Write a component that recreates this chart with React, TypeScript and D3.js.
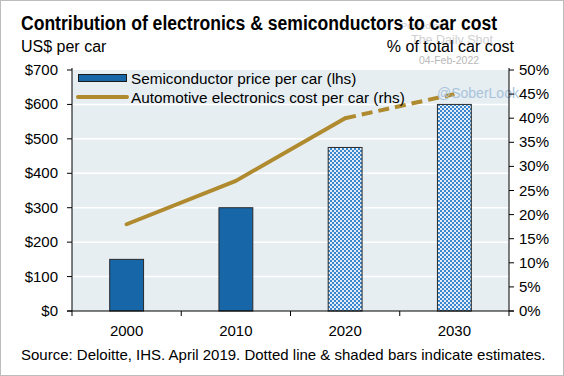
import React from "react";
import * as d3 from "d3";

const categories = ["2000", "2010", "2020", "2030"];
const semiValues = [150, 300, 475, 600];
const semiEstimated = [false, false, true, true];
const elecShare = [18, 27, 40, 45];
const leftTicks = [0, 100, 200, 300, 400, 500, 600, 700];
const rightTicks = [0, 5, 10, 15, 20, 25, 30, 35, 40, 45, 50];

const W = 564;
const H = 376;
const FONT = "'Liberation Sans', Arial, sans-serif";

export default function App() {
  const left = 72;
  const right = 509;
  const top = 70;
  const bottom = 311;

  const x = d3.scaleBand<string>().domain(categories).range([left, right]).padding(0);
  const yL = d3.scaleLinear().domain([0, 700]).range([bottom, top]);
  const yR = d3.scaleLinear().domain([0, 50]).range([bottom, top]);
  const barW = x.bandwidth() * 0.31;
  const cx = (c: string) => (x(c) as number) + x.bandwidth() / 2;

  const solidPath = d3
    .line<number>()
    .x((_, i) => cx(categories[i]))
    .y((d) => yR(d))(elecShare.slice(0, 3)) as string;
  const dashPath = d3
    .line<number>()
    .x((_, i) => cx(categories[i + 2]))
    .y((d) => yR(d))(elecShare.slice(2)) as string;

  const gold = "#B08A2E";
  const blue = "#1666A8";

  return (
    <svg
      width={W}
      height={H}
      style={{ position: "absolute", left: 0, top: 0, fontFamily: FONT }}
    >
      <defs>
        <pattern id="chk" width="4" height="4" patternUnits="userSpaceOnUse">
          <rect width="4" height="4" fill="#3A87CF" />
          <rect x="0" y="0" width="2" height="2" fill="#ffffff" opacity="0.85" />
          <rect x="2" y="2" width="2" height="2" fill="#ffffff" opacity="0.85" />
        </pattern>
      </defs>
      <rect x={0.5} y={0.5} width={W - 1} height={H - 1} fill="#fff" stroke="#BDBDBD" />

      {/* watermark (behind) */}
      <text x={401} y={29} fontSize={9.5} fill="#D0D0D0">Posted on</text>
      <text x={411} y={44} fontSize={12.5} fill="#D0D0D0">The Daily Shot</text>
      <text x={419} y={64} fontSize={10.5} fill="#B8B8B8">04-Feb-2022</text>

      <text x={21} y={30} fontSize={19.5} fontWeight="bold" fill="#000" textLength={476} lengthAdjust="spacingAndGlyphs">
        Contribution of electronics &amp; semiconductors to car cost
      </text>
      <text x={21} y={52} fontSize={16} fill="#000">US$ per car</text>
      <text x={514} y={52} fontSize={16} fill="#000" textAnchor="end">% of total car cost</text>

      {/* plot background */}
      <rect x={left} y={top} width={right - left} height={bottom - top} fill="#E6EEF2" />
      {leftTicks.slice(1, -1).map((t) => (
        <line key={"g" + t} x1={left} x2={right} y1={yL(t)} y2={yL(t)} stroke="#fff" strokeWidth={1.5} />
      ))}

      {/* bars */}
      {categories.map((c, i) => (
        <rect
          key={c}
          x={cx(c) - barW / 2}
          y={yL(semiValues[i])}
          width={barW}
          height={bottom - yL(semiValues[i])}
          fill={semiEstimated[i] ? "url(#chk)" : blue}
          stroke="#2A2A2A"
          strokeWidth={1}
        />
      ))}

      {/* line */}
      <path d={solidPath} fill="none" stroke={gold} strokeWidth={4} strokeLinecap="round" strokeLinejoin="round" />
      <path d={dashPath} fill="none" stroke={gold} strokeWidth={4} strokeDasharray="11,6" />

      <text x={437} y={98} fontSize={14} fill="#A9C3DB">@SoberLook</text>

      {/* legend */}
      <rect x={78.5} y={74.5} width={48} height={7} fill={blue} stroke="#1a1a1a" strokeWidth={1} />
      <line x1={78} x2={127} y1={97} y2={97} stroke={gold} strokeWidth={4} strokeLinecap="round" />
      <text x={131} y={84} fontSize={15.3} fill="#000">Semiconductor price per car (lhs)</text>
      <text x={131} y={103} fontSize={15.3} fill="#000">Automotive electronics cost per car (rhs)</text>

      {/* left axis */}
      <line x1={left} x2={left} y1={top - 2} y2={bottom + 5} stroke="#000" strokeWidth={1} />
      {leftTicks.map((t) => (
        <g key={"l" + t}>
          <line x1={left - 5} x2={left} y1={yL(t)} y2={yL(t)} stroke="#000" />
          <text x={58} y={yL(t) + 5} fontSize={15} textAnchor="end" fill="#000">${t}</text>
        </g>
      ))}

      {/* right axis */}
      <line x1={right} x2={right} y1={top - 2} y2={bottom + 5} stroke="#000" strokeWidth={1} />
      {rightTicks.map((t) => (
        <g key={"r" + t}>
          <line x1={right} x2={right + 5} y1={yR(t)} y2={yR(t)} stroke="#000" />
          <text x={519} y={yR(t) + 5} fontSize={15} fill="#000">{t}%</text>
        </g>
      ))}

      {/* x axis */}
      <line x1={left - 5} x2={right + 5} y1={bottom} y2={bottom} stroke="#000" />
      {categories.slice(1).map((c) => (
        <line key={"xt" + c} x1={x(c) as number} x2={x(c) as number} y1={bottom} y2={bottom + 5} stroke="#000" />
      ))}
      {categories.map((c) => (
        <text key={"xl" + c} x={cx(c)} y={336} fontSize={15} textAnchor="middle" fill="#000">{c}</text>
      ))}

      <text x={21} y={360} fontSize={15} fill="#000">
        Source: Deloitte, IHS. April 2019. Dotted line &amp; shaded bars indicate estimates.
      </text>
    </svg>
  );
}
